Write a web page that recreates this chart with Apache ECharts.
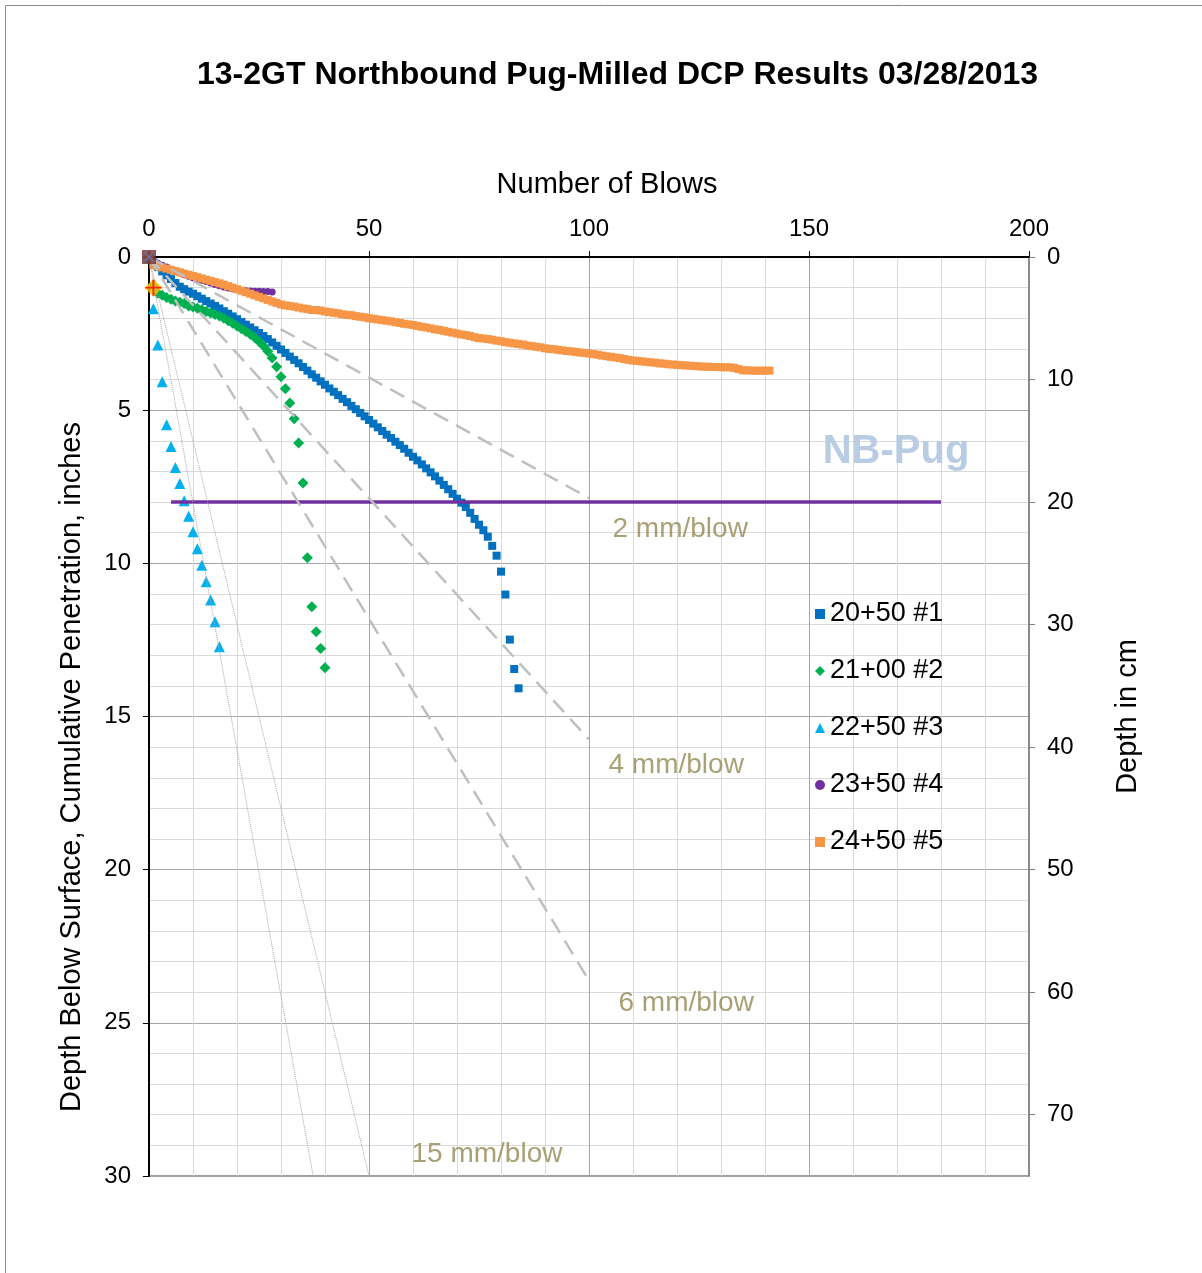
<!DOCTYPE html>
<html>
<head>
<meta charset="utf-8">
<title>DCP Results</title>
<script src="https://cdn.jsdelivr.net/npm/echarts@6/dist/echarts.min.js"></script>
<style>
  html, body { margin: 0; padding: 0; background: #fff; }
  #chart { width: 1202px; height: 1273px; }
</style>
</head>
<body>
<div id="chart"></div>
<script>
// cumulative penetration (inches) per blow, index = number of blows
const names = ['20+50 #1', '21+00 #2', '22+50 #3', '23+50 #4', '24+50 #5'];

const depth1 = [0, 0.18, 0.33, 0.47, 0.6, 0.72, 0.85, 0.97, 1.05, 1.13,
  1.2, 1.28, 1.36, 1.44, 1.52, 1.6, 1.68, 1.77, 1.85, 1.94,
  2.03, 2.12, 2.21, 2.3, 2.39, 2.48, 2.58, 2.68, 2.79, 2.9,
  3.02, 3.13, 3.25, 3.36, 3.47, 3.59, 3.71, 3.83, 3.94, 4.06,
  4.17, 4.29, 4.4, 4.51, 4.63, 4.74, 4.86, 4.97, 5.09, 5.2,
  5.32, 5.44, 5.56, 5.68, 5.8, 5.91, 6.03, 6.14, 6.26, 6.39,
  6.52, 6.64, 6.77, 6.9, 7.03, 7.16, 7.3, 7.44, 7.58, 7.73,
  7.89, 8.02, 8.16, 8.35, 8.55, 8.74, 8.92, 9.13, 9.43, 9.75,
  10.27, 11.02, 12.49, 13.45, 14.08];

const depth2 = [0, 0.95, 1.18, 1.25, 1.32, 1.38, 1.44, 1.48, 1.52, 1.6,
  1.63, 1.67, 1.72, 1.78, 1.83, 1.88, 1.93, 2.0, 2.08, 2.16,
  2.25, 2.34, 2.43, 2.52, 2.63, 2.76, 2.9, 3.08, 3.3, 3.58,
  3.91, 4.3, 4.77, 5.28, 6.07, 7.38, 9.82, 11.42, 12.23, 12.78,
  13.41];

const depth3 = [0, 1.69, 2.87, 4.07, 5.48, 6.19, 6.87, 7.39, 7.96, 8.46,
  8.97, 9.52, 10.06, 10.6, 11.2, 11.91, 12.72];

const depth4 = [0, 0.12, 0.2, 0.27, 0.33, 0.4, 0.46, 0.52, 0.58, 0.63,
  0.68, 0.72, 0.76, 0.8, 0.85, 0.9, 0.94, 0.98, 1.01, 1.04,
  1.07, 1.09, 1.1, 1.11, 1.12, 1.12, 1.13, 1.13, 1.14];

const depth5 = [0, 0.26, 0.3, 0.34, 0.38, 0.42, 0.46, 0.5, 0.54, 0.58,
  0.62, 0.66, 0.7, 0.74, 0.78, 0.82, 0.86, 0.9, 0.95, 1.0,
  1.05, 1.1, 1.15, 1.2, 1.25, 1.3, 1.35, 1.4, 1.45, 1.5,
  1.55, 1.58, 1.6, 1.62, 1.65, 1.68, 1.7, 1.73, 1.73, 1.75,
  1.78, 1.8, 1.82, 1.84, 1.87, 1.89, 1.9, 1.93, 1.95, 1.97,
  2.0, 2.02, 2.04, 2.06, 2.08, 2.1, 2.13, 2.15, 2.18, 2.2,
  2.22, 2.25, 2.28, 2.3, 2.33, 2.36, 2.38, 2.41, 2.44, 2.47,
  2.5, 2.53, 2.55, 2.58, 2.62, 2.65, 2.66, 2.68, 2.7, 2.73,
  2.75, 2.78, 2.8, 2.82, 2.84, 2.86, 2.89, 2.91, 2.93, 2.95,
  2.98, 3.0, 3.01, 3.03, 3.05, 3.07, 3.08, 3.1, 3.12, 3.13,
  3.15, 3.17, 3.19, 3.22, 3.24, 3.26, 3.28, 3.3, 3.33, 3.36,
  3.38, 3.39, 3.41, 3.42, 3.44, 3.45, 3.47, 3.48, 3.5, 3.51,
  3.52, 3.53, 3.54, 3.55, 3.56, 3.57, 3.58, 3.58, 3.59, 3.59,
  3.6, 3.6, 3.6, 3.62, 3.66, 3.7, 3.7, 3.71, 3.71, 3.71,
  3.71, 3.71];

// reference lines [blows, inches]
const line2mm = [[0, 0], [100, 7.87]];
const line4mm = [[0, 0], [100, 15.75]];
const line6mm = [[0, 0], [100, 23.62]];
const line15mm = [[0, 0], [50, 30]];
const line20mm = [[0, 0], [37.3, 30]];
const targetLine = [[5, 8], [180, 8]];
const startMark = [[0, 0]];
const seatMark = [[1, 1.0]];

const font = 'Liberation Sans, Arial, sans-serif';
const toPairs = arr => arr.map((d, i) => [i, d]);

const chart = echarts.init(document.getElementById('chart'));

function dataSeries(name, data, symbol, size, color) {
    return {
        name: name,
        type: 'scatter',
        data: toPairs(data),
        symbol: symbol,
        symbolSize: size,
        itemStyle: { color: color, opacity: 1 },
        emphasis: { disabled: true }
    };
}

function refLine(data, dash, width, color) {
    return {
        type: 'line',
        data: data,
        symbol: 'none',
        silent: true,
        lineStyle: { color: color, width: width, type: dash },
        z: 3
    };
}

const labelStyle = { color: '#948A54', fontSize: 28, fontFamily: font };

chart.setOption({
    animation: false,
    title: {
        text: '13-2GT Northbound Pug-Milled DCP Results 03/28/2013',
        left: 192,
        top: 54,
        textStyle: { fontSize: 32, fontWeight: 'bold', color: '#000', fontFamily: font }
    },
    legend: {
        orient: 'vertical',
        left: 810,
        top: 594,
        itemWidth: 10,
        itemHeight: 10,
        itemGap: 27,
        data: [
            { name: names[0], icon: 'rect' },
            { name: names[1], icon: 'diamond' },
            { name: names[2], icon: 'triangle' },
            { name: names[3], icon: 'circle' },
            { name: names[4], icon: 'rect' }
        ],
        textStyle: { fontSize: 27, lineHeight: 30, color: '#000', fontFamily: font }
    },
    grid: {
        left: 149, top: 257, width: 880, height: 919,
        show: true, borderColor: '#808080', borderWidth: 1.5
    },
    xAxis: {
        type: 'value',
        position: 'top',
        min: 0, max: 200, interval: 50,
        name: 'Number of Blows',
        nameLocation: 'middle',
        nameGap: 58,
        nameTextStyle: { fontSize: 29, color: '#000', fontFamily: font, padding: [0, 0, 0, 36] },
        axisLine: { show: true, lineStyle: { color: '#000', width: 2 } },
        axisTick: { show: true, length: 6, lineStyle: { color: '#000' } },
        axisLabel: { fontSize: 24, color: '#000', margin: 16, fontFamily: font },
        splitLine: { show: true, lineStyle: { color: '#a6a6a6' } },
        minorTick: { show: false, splitNumber: 5 },
        minorSplitLine: { show: true, lineStyle: { color: '#d9d9d9' } }
    },
    yAxis: [{
        type: 'value',
        inverse: true,
        min: 0, max: 30, interval: 5,
        axisLine: { show: true, lineStyle: { color: '#000', width: 2 } },
        axisTick: { show: true, length: 6, lineStyle: { color: '#000' } },
        axisLabel: { fontSize: 24, color: '#000', margin: 18, fontFamily: font },
        splitLine: { show: true, lineStyle: { color: '#a6a6a6' } },
        minorTick: { show: false, splitNumber: 5 },
        minorSplitLine: { show: true, lineStyle: { color: '#d9d9d9' } }
    }, {
        type: 'value',
        inverse: true,
        position: 'right',
        min: 0, max: 75, interval: 10,
        name: 'Depth in cm',
        nameLocation: 'middle',
        nameGap: 84,
        nameTextStyle: { fontSize: 29, color: '#000', fontFamily: font },
        axisLine: { show: true, lineStyle: { color: '#808080', width: 1.5 } },
        axisTick: { show: true, length: 6, lineStyle: { color: '#808080' } },
        axisLabel: { fontSize: 24, color: '#000', margin: 18, fontFamily: font, showMaxLabel: false },
        splitLine: { show: false }
    }],
    graphic: [
        {
            type: 'rect',
            shape: { x: 5.5, y: 5.5, width: 1220, height: 1290 },
            style: { fill: 'none', stroke: '#8c8c8c', lineWidth: 1 },
            silent: true
        },
        {
            type: 'text',
            x: 72, y: 767,
            rotation: Math.PI / 2,
            style: {
                text: 'Depth Below Surface, Cumulative Penetration, inches',
                fontSize: 29, fill: '#000', fontFamily: font,
                align: 'center', verticalAlign: 'middle'
            }
        },
        {
            type: 'text',
            x: 896, y: 452,
            style: {
                text: 'NB-Pug',
                fontSize: 40, fontWeight: 'bold', fill: '#B8CCE4', fontFamily: font,
                align: 'center', verticalAlign: 'middle'
            },
            z: 1
        }
    ],
    series: [
        dataSeries(names[0], depth1, 'rect', 8, '#0070C0'),
        dataSeries(names[1], depth2, 'diamond', 11, '#00B050'),
        dataSeries(names[2], depth3, 'triangle', 11, '#00B0F0'),
        dataSeries(names[3], depth4, 'circle', 7, '#7030A0'),
        dataSeries(names[4], depth5, 'rect', 8, '#F79646'),
        refLine(targetLine, 'solid', 3.5, '#7030A0'),
        refLine(line2mm, [16, 9], 2.5, '#BFBFBF'),
        refLine(line4mm, [16, 9], 2.5, '#BFBFBF'),
        refLine(line6mm, [16, 9], 2.5, '#BFBFBF'),
        refLine(line15mm, 'dotted', 1, '#A6A6A6'),
        refLine(line20mm, 'dotted', 1, '#A6A6A6'),
        {
            type: 'scatter',
            silent: true,
            symbol: 'circle',
            symbolSize: 1,
            itemStyle: { color: 'rgba(0,0,0,0)' },
            data: [
                { value: line2mm[1], label: { show: true, formatter: '2 mm/blow', position: 'right', offset: [18, 31], ...labelStyle } },
                { value: line4mm[1], label: { show: true, formatter: '4 mm/blow', position: 'right', offset: [14, 26], ...labelStyle } },
                { value: line6mm[1], label: { show: true, formatter: '6 mm/blow', position: 'right', offset: [24, 23], ...labelStyle } },
                { value: line15mm[1], label: { show: true, formatter: '15 mm/blow', position: 'right', offset: [37, -22], ...labelStyle } }
            ],
            z: 4
        },
        {
            type: 'scatter',
            silent: true,
            data: startMark,
            symbol: 'rect',
            symbolSize: 14,
            itemStyle: { color: '#7B2C2A' },
            z: 5
        },
        {
            type: 'scatter',
            silent: true,
            data: startMark,
            symbol: 'path://M0,1L1,0L5,4L9,0L10,1L6,5L10,9L9,10L5,6L1,10L0,9L4,5Z',
            symbolSize: 11,
            itemStyle: { color: '#4F81BD' },
            z: 6
        },
        {
            type: 'scatter',
            silent: true,
            data: seatMark,
            symbol: 'diamond',
            symbolSize: 18,
            itemStyle: { color: '#FFC000' },
            z: 5
        },
        {
            type: 'scatter',
            silent: true,
            data: seatMark,
            symbol: 'path://M4.4,0H5.6V4.4H10V5.6H5.6V10H4.4V5.6H0V4.4H4.4Z',
            symbolSize: 16,
            itemStyle: { color: '#FF0000' },
            z: 6
        }
    ]
});
</script>
</body>
</html>
